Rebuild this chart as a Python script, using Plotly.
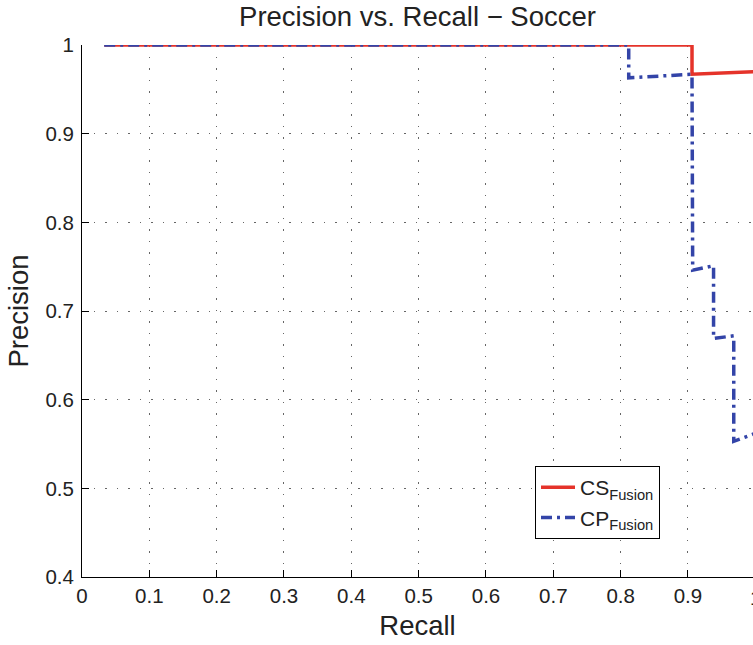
import plotly.graph_objects as go

# Precision-recall points for the two fusion methods
recall_cs = [0.033, 0.906, 0.906, 1.0]
precision_cs = [1.0, 1.0, 0.967, 0.970]

recall_cp = [0.033, 0.812, 0.812, 0.906, 0.907, 0.938, 0.938, 0.968, 0.968, 1.0]
precision_cp = [1.0, 1.0, 0.963, 0.967, 0.746, 0.751, 0.669, 0.672, 0.553, 0.562]

x_ticks = [0, 0.1, 0.2, 0.3, 0.4, 0.5, 0.6, 0.7, 0.8, 0.9, 1.0]
y_ticks = [0.4, 0.5, 0.6, 0.7, 0.8, 0.9, 1.0]
x_tick_text = ["0", "0.1", "0.2", "0.3", "0.4", "0.5", "0.6", "0.7", "0.8", "0.9", "1"]
y_tick_text = ["0.4", "0.5", "0.6", "0.7", "0.8", "0.9", "1"]

FONT = "Liberation Sans, Arial, Helvetica, sans-serif"
TEXT = "#222222"
RED = "#e5332a"
BLUE = "#3344a8"
TICK_SIZE = 20.5
LABEL_SIZE = 27.5

fig = go.Figure()
fig.add_trace(go.Scatter(
    x=recall_cs, y=precision_cs, mode="lines",
    name="CS<sub>Fusion</sub>",
    line=dict(color=RED, width=3.5),
    cliponaxis=False,
))
fig.add_trace(go.Scatter(
    x=recall_cp, y=precision_cp, mode="lines",
    name="CP<sub>Fusion</sub>",
    line=dict(color=BLUE, width=3.5, dash="11px,5px,3px,5px"),
    cliponaxis=False,
))

# Visible part of the recall axis (the frame ends just past the right edge)
x_max = 671 / 673.3

fig.update_layout(
    width=753, height=645,
    margin=dict(l=82, r=0, t=45, b=68),
    paper_bgcolor="white", plot_bgcolor="white",
    font=dict(family=FONT, color=TEXT),
    title=dict(
        text="Precision vs. Recall \u2212 Soccer",
        font=dict(size=LABEL_SIZE, family=FONT, color=TEXT),
        x=0.5, xref="paper", xanchor="center",
        y=1 - 16 / 645, yref="container", yanchor="middle",
    ),
    showlegend=True,
    legend=dict(
        x=(535 - 82) / 671, y=1 - (466 - 45) / 532,
        xanchor="left", yanchor="top",
        bgcolor="white", bordercolor="black", borderwidth=1,
        font=dict(size=21, family=FONT, color=TEXT),
        tracegroupgap=0, itemwidth=34,
    ),
)

fig.update_xaxes(
    range=[0, x_max],
    tickvals=x_ticks[:-1], ticktext=x_tick_text[:-1],
    tickfont=dict(size=TICK_SIZE, family=FONT, color=TEXT),
    ticks="inside", ticklen=7, tickcolor="black", tickwidth=1,
    showline=True, linecolor="black", linewidth=1, mirror=False,
    showgrid=True, gridcolor="#666666", gridwidth=1, griddash="1.5px,10px",
    zeroline=False,
    title=dict(text="Recall", font=dict(size=LABEL_SIZE, family=FONT, color=TEXT), standoff=10),
)
fig.update_yaxes(
    range=[0.4, 1.0],
    tickvals=y_ticks, ticktext=y_tick_text,
    tickfont=dict(size=TICK_SIZE, family=FONT, color=TEXT),
    ticks="inside", ticklen=7, tickcolor="black", tickwidth=1,
    showline=True, linecolor="black", linewidth=1, mirror=False,
    showgrid=True, gridcolor="#666666", gridwidth=1, griddash="1.5px,10px",
    zeroline=False, ticklabelstandoff=3,
    title=dict(text="Precision", font=dict(size=LABEL_SIZE, family=FONT, color=TEXT), standoff=8),
)

# The last recall tick label sits just past the visible plot edge
fig.add_annotation(
    x=x_ticks[-1] / x_max, y=0, xref="paper", yref="paper",
    text=x_tick_text[-1], showarrow=False,
    xanchor="center", yanchor="top", yshift=-7,
    font=dict(size=TICK_SIZE, family=FONT, color=TEXT),
)

fig.write_html("out.html")
